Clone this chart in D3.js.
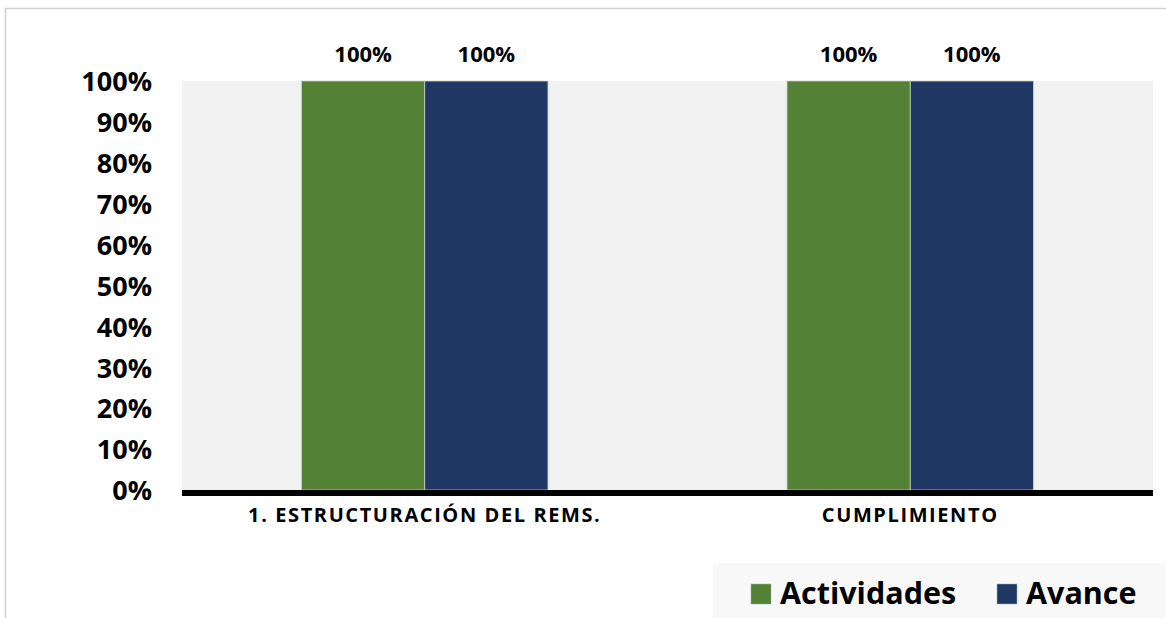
<!DOCTYPE html>
<html>
<head>
<meta charset="utf-8">
<script src="https://cdn.jsdelivr.net/npm/d3@7"></script>
<style>
  body { margin: 0; background: #fff; }
  text { font-family: "Open Sans", Lato, sans-serif; font-weight: bold; }
</style>
</head>
<body>
<div id="chart"></div>
<script>
var categories = ["1. ESTRUCTURACIÓN DEL REMS.", "CUMPLIMIENTO"];
var seriesNames = ["Actividades", "Avance"];
var actividades = [1, 1];
var avance = [1, 1];
var yTicks = [0, 0.1, 0.2, 0.3, 0.4, 0.5, 0.6, 0.7, 0.8, 0.9, 1];
var colors = ["#538135", "#203864"];

var width = 1166, height = 618;
var margin = { top: 81, right: 13, bottom: 131, left: 182 };
var plotW = width - margin.left - margin.right;
var plotH = height - margin.top - margin.bottom;

var svg = d3.select("#chart").append("svg")
  .attr("width", width)
  .attr("height", height);

// outer frame
svg.append("rect")
  .attr("x", 5.5).attr("y", 8.5)
  .attr("width", width).attr("height", height)
  .attr("fill", "none")
  .attr("stroke", "#d0d0d0")
  .attr("stroke-width", 1.5);

var g = svg.append("g")
  .attr("transform", "translate(" + margin.left + "," + margin.top + ")");

var x0 = d3.scaleBand().domain(categories).range([0, plotW]).paddingInner(0).paddingOuter(0);
var x1 = d3.scaleBand().domain(seriesNames).range([0, x0.bandwidth()]).paddingInner(0).paddingOuter(0.97);
var y = d3.scaleLinear().domain([0, 1]).range([plotH + 3, 0]);

g.append("rect")
  .attr("width", plotW).attr("height", plotH + 3)
  .attr("fill", "#f1f1f1");

var rows = categories.map(function(c, i) {
  return { cat: c, values: [actividades[i], avance[i]] };
});

var groups = g.selectAll(".grp").data(rows).enter().append("g")
  .attr("transform", function(d) { return "translate(" + x0(d.cat) + ",0)"; });

groups.selectAll("rect").data(function(d) {
  return d.values.map(function(v, j) { return { name: seriesNames[j], v: v, j: j }; });
}).enter().append("rect")
  .attr("x", function(d) { return x1(d.name); })
  .attr("y", function(d) { return y(d.v); })
  .attr("width", x1.bandwidth())
  .attr("height", function(d) { return y(0) - y(d.v); })
  .attr("fill", function(d) { return colors[d.j]; })
  .attr("stroke", "#c9d3c0")
  .attr("stroke-width", 0.8);

groups.selectAll(".lbl").data(function(d) {
  return d.values.map(function(v, j) { return { name: seriesNames[j], v: v }; });
}).enter().append("text")
  .attr("x", function(d) { return x1(d.name) + x1.bandwidth() / 2; })
  .attr("y", function(d) { return y(d.v) - 19; })
  .attr("text-anchor", "middle")
  .attr("font-size", "22px")
  .attr("fill", "#000")
  .text(function(d) { return d3.format(".0%")(d.v); });

// y axis
var yAxis = g.append("g")
  .call(d3.axisLeft(y).tickValues(yTicks).tickFormat(d3.format(".0%")).tickSize(0).tickPadding(30));
yAxis.select(".domain").remove();
yAxis.selectAll("text")
  .attr("font-size", "27px")
  .attr("fill", "#000")
  .attr("dy", "0.36em");

// x axis baseline
g.append("line")
  .attr("x1", 0).attr("x2", plotW)
  .attr("y1", y(0) + 3).attr("y2", y(0) + 3)
  .attr("stroke", "#000")
  .attr("stroke-width", 6);

var xAxis = g.append("g")
  .attr("transform", "translate(0," + (y(0) + 3) + ")")
  .call(d3.axisBottom(x0).tickSize(0).tickPadding(0));
xAxis.select(".domain").remove();
xAxis.selectAll("text")
  .attr("font-size", "20px")
  .attr("letter-spacing", "1.6px")
  .attr("fill", "#000")
  .attr("dy", null)
  .attr("y", 29);

// legend
var legend = svg.append("g").attr("transform", "translate(713,563)");
legend.append("rect")
  .attr("width", 460).attr("height", 60)
  .attr("fill", "#f8f8f8");
var legendX = [38, 284];
seriesNames.forEach(function(name, i) {
  legend.append("rect")
    .attr("x", legendX[i]).attr("y", 21)
    .attr("width", 20).attr("height", 20)
    .attr("fill", colors[i])
    .attr("stroke", "#9aa")
    .attr("stroke-width", 0.5);
  legend.append("text")
    .attr("x", legendX[i] + 29).attr("y", 41)
    .attr("font-size", "30.5px")
    .attr("fill", "#000")
    .text(name);
});
</script>
</body>
</html>
